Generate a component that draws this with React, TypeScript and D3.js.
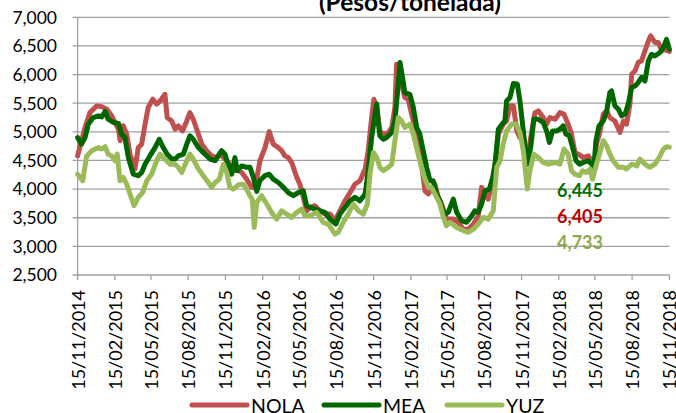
import React from "react";
import * as d3 from "d3";

const START = "2014-11-15";
const TITLE = "(Pesos/tonelada)";
const xTickLabels = [
  "15/11/2014", "15/02/2015", "15/05/2015", "15/08/2015", "15/11/2015",
  "15/02/2016", "15/05/2016", "15/08/2016", "15/11/2016", "15/02/2017",
  "15/05/2017", "15/08/2017", "15/11/2017", "15/02/2018", "15/05/2018",
  "15/08/2018", "15/11/2018",
];
const yTicks = [2500, 3000, 3500, 4000, 4500, 5000, 5500, 6000, 6500, 7000];
const seriesNames = ["NOLA", "MEA", "YUZ"];
const lastValues = ["6,445", "6,405", "4,733"]; // MEA, NOLA, YUZ

// [weeks since START, pesos/ton]
const NOLA: [number, number][] = [
  [0, 4580], [1.4, 4840], [2.6, 5075], [4.4, 5340], [6.7, 5450], [8.5, 5440], [10.3, 5395], [12, 5280],
  [13.2, 5165], [14.4, 5045], [15, 4845], [16.1, 5105], [17.3, 4960], [18.5, 4610], [20.2, 4350], [21.4, 4725],
  [22.6, 4785], [23.8, 5135], [24.9, 5425], [26.5, 5570], [27.9, 5485], [29.1, 5540], [30.8, 5655], [31.6, 5250],
  [33.2, 5190], [34.4, 5045], [35.5, 5105], [37, 5015], [38.5, 5190], [39.6, 5335], [40.8, 5220], [42, 5045],
  [43.8, 4785], [45.5, 4670], [47.3, 4580], [49, 4550], [50.2, 4610], [52, 4525], [53.2, 4465], [54.3, 4290],
  [56.1, 4350], [57.9, 4290], [59.6, 4175], [61.4, 4030], [62.6, 4020], [64.3, 4495], [66.1, 4725], [67.6, 5005],
  [69, 4785], [70.8, 4725], [72, 4670], [73.1, 4580], [74.3, 4550], [75.5, 4465], [77.3, 4205], [78.4, 4085],
  [79.6, 3855], [80.8, 3620], [82, 3680], [83.7, 3710], [85.5, 3620], [87.2, 3565], [89, 3565], [90.8, 3450],
  [92.5, 3620], [94.3, 3795], [96.1, 3940], [97.8, 4085], [99.6, 4145], [101.4, 4350], [102.5, 4670], [103.7, 5250],
  [104.5, 5570], [105.5, 5425], [106.6, 5015], [107.8, 4960], [109.6, 4990], [110.8, 5075], [111.9, 5425], [112.5, 6180],
  [113.4, 6095], [114.3, 5830], [115.4, 5600], [116.6, 5570], [117.8, 5310], [119, 5075], [120.1, 4845], [121.3, 4435],
  [122.5, 3970], [123.7, 3915], [124.8, 4000], [126, 4085], [127.2, 3855], [128.4, 3740], [130.1, 3480], [132.5, 3480],
  [134.3, 3420], [136, 3300], [137.8, 3300], [139.6, 3390], [141.3, 3535], [142.5, 4030], [143.7, 3915], [144.8, 3825],
  [146.4, 4145], [147.2, 4380], [148.4, 4960], [150.1, 5135], [151.3, 5190], [152.5, 5455], [153.7, 5455], [154.9, 5015],
  [156, 4900], [157.2, 4845], [158.6, 4435], [159.8, 4900], [161.3, 5335], [162.5, 5365], [164.2, 5250], [165.4, 5135],
  [166.6, 5250], [168.4, 5220], [170.1, 5335], [171.5, 5310], [173, 5135], [174.2, 4960], [175.4, 4640], [176.6, 4610],
  [178.4, 4550], [180.1, 4580], [181.3, 4495], [182.1, 4380], [183, 4785], [184.2, 4990], [185.4, 5310], [186.6, 5365],
  [187.7, 5250], [189.5, 5190], [191.3, 4990], [192.5, 5190], [193.6, 5135], [194.8, 5485], [195.4, 6005], [196.6, 6065],
  [197.7, 6210], [198.9, 6240], [200.1, 6415], [201.3, 6585], [202.1, 6675], [203.6, 6560], [204.8, 6560], [206, 6415],
  [207.1, 6440], [208.7, 6405],
];

const MEA: [number, number][] = [
  [0, 4900], [1.4, 4785], [2.6, 4900], [3.8, 5135], [5.5, 5250], [7.3, 5280], [8.5, 5260], [9.7, 5355],
  [10.8, 5220], [12.6, 5165], [14.4, 5145], [15.5, 4960], [16.7, 4900], [17.9, 4550], [19.65, 4260], [21.4, 4235],
  [22.6, 4290], [23.8, 4435], [25.5, 4580], [27.3, 4725], [28.8, 4870], [30.2, 4725], [31.6, 4610], [33.2, 4525],
  [34.4, 4525], [35.5, 4580], [37.3, 4610], [38.5, 4785], [39.6, 4930], [40.8, 4870], [42.6, 4725], [44.3, 4640],
  [46.7, 4525], [48.5, 4495], [49.6, 4580], [50.8, 4670], [52, 4610], [53.2, 4405], [54.3, 4260], [55.5, 4550],
  [56.3, 4320], [57.9, 4405], [59.6, 4380], [60.8, 4380], [62, 4205], [63.2, 3960], [64.3, 4150], [66.1, 4235],
  [67.6, 4260], [69, 4175], [70.8, 4115], [72.6, 4030], [74.3, 3940], [76.1, 3885], [77.8, 3940], [79.6, 3970],
  [80.8, 3710], [82, 3680], [83.7, 3650], [85.5, 3620], [87.2, 3595], [89, 3475], [91.1, 3390], [92.5, 3565],
  [94.3, 3680], [96.1, 3795], [97.8, 3855], [99.6, 3795], [101.4, 3915], [102.5, 4320], [103.7, 4900], [104.9, 5310],
  [105.5, 5485], [106, 5190], [106.6, 4930], [107.8, 4870], [109, 4900], [110.8, 4990], [111.9, 5190], [113.1, 5830],
  [113.7, 6210], [114.6, 5950], [115.4, 5685], [117.2, 5655], [118.4, 5425], [119.6, 5075], [120.7, 4960], [121.9, 4670],
  [123.1, 4380], [124.3, 4145], [125.4, 4145], [126.6, 3915], [127.8, 3795], [129, 3595], [129.6, 3565], [130.7, 3595],
  [132.5, 3825], [133.7, 3595], [135.4, 3450], [137.2, 3420], [139, 3535], [140.1, 3620], [141.3, 3595], [142.5, 3740],
  [143.7, 3970], [145.2, 4000], [146.4, 4205], [147.2, 4435], [148.4, 5045], [149.5, 5120], [150.7, 5190], [151.3, 5540],
  [152.5, 5600], [153.7, 5845], [155.1, 5830], [156, 5540], [157.2, 5015], [158.6, 4435], [159.8, 4725], [160.9, 5220],
  [162.5, 5220], [164.2, 5165], [165.4, 5015], [166.4, 4815], [167.5, 5015], [168.9, 5015], [170.1, 5045], [171.3, 5105],
  [172.2, 4960], [173.4, 4930], [174.6, 4725], [175.8, 4495], [177, 4435], [178.4, 4465], [180.1, 4495], [181.3, 4435],
  [182.1, 4380], [182.8, 4845], [183.9, 5105], [185.4, 5190], [186.6, 5365], [187.7, 5685], [188.3, 5715], [189.5, 5455],
  [190.7, 5395], [191.9, 5280], [193.1, 5310], [194.2, 5485], [195.4, 5775], [196.6, 5800], [197.7, 5860], [198.9, 5950],
  [200.1, 5890], [201.3, 6240], [202.4, 6355], [203.6, 6325], [205.4, 6385], [206.6, 6470], [207.7, 6615], [208.7, 6445],
];

const YUZ: [number, number][] = [
  [0, 4260], [1.8, 4145], [3.2, 4580], [5, 4670], [7.3, 4725], [8.5, 4700], [9.7, 4740], [10.8, 4610],
  [12, 4580], [13.2, 4495], [14, 4610], [14.95, 4145], [16.1, 4205], [17.3, 4085], [18.5, 3915], [19.9, 3710],
  [21.4, 3855], [22.9, 3940], [24.4, 4145], [26.1, 4260], [27.9, 4495], [29.1, 4610], [30.8, 4525], [32.6, 4435],
  [34.4, 4435], [35.5, 4380], [36.7, 4290], [38.5, 4495], [39.6, 4610], [40.8, 4525], [42.6, 4350], [44.3, 4235],
  [46.1, 4115], [47.3, 4030], [48.5, 4115], [50, 4175], [51.4, 4435], [52.6, 4290], [53.7, 4030], [54.9, 4000],
  [56.7, 4075], [58.4, 4085], [59.6, 4000], [60.8, 3880], [61.6, 3825], [62.3, 3330], [63.2, 3770], [64.9, 3885],
  [66.7, 3740], [68.4, 3595], [70.2, 3475], [72, 3620], [73.7, 3565], [75.5, 3505], [77.3, 3595], [79, 3650],
  [80.2, 3535], [82, 3535], [84.3, 3595], [85.5, 3505], [86.6, 3420], [88.4, 3390], [90.8, 3215], [91.9, 3245],
  [93.7, 3420], [95.5, 3565], [97.2, 3740], [99, 3620], [100.8, 3565], [102.2, 3740], [103.1, 4260], [104.3, 4640],
  [105.5, 4550], [106.6, 4380], [107.8, 4320], [109.6, 4380], [110.8, 4435], [111.9, 4845], [113.1, 5250], [114.3, 5190],
  [115.4, 5075], [117.2, 5135], [118.4, 4960], [120.1, 4610], [121.9, 4260], [123.7, 4030], [124.8, 4030], [126, 3915],
  [127.8, 3740], [129, 3505], [130.1, 3360], [131.3, 3420], [133.7, 3330], [136, 3275], [137.8, 3245], [139.6, 3300],
  [141.3, 3390], [143.1, 3505], [144.8, 3475], [146.6, 3620], [147.8, 4380], [149, 4495], [150.1, 4785], [151.3, 5015],
  [153.1, 5135], [154.6, 5135], [156, 4990], [157.2, 4670], [158.6, 4000], [159.5, 4320], [160.9, 4610], [162.5, 4550],
  [164.2, 4465], [166, 4435], [168.4, 4465], [170.1, 4435], [171.5, 4700], [173, 4610], [174.2, 4320], [175.4, 4260],
  [177, 4235], [178.1, 4320], [179.5, 4290], [180.7, 4350], [181.6, 4175], [183, 4435], [184.2, 4640], [185.4, 4845],
  [186.6, 4755], [187.7, 4610], [188.9, 4495], [190.7, 4380], [192.5, 4380], [193.6, 4350], [195.4, 4435], [197.2, 4405],
  [198.3, 4525], [200.1, 4435], [201.8, 4380], [203.6, 4435], [205.1, 4550], [206.6, 4700], [207.7, 4740], [208.7, 4733],
];

const COLORS = { NOLA: "#C0504D", MEA: "#006600", YUZ: "#9BBB59" };
const LABEL_COLORS = ["#007000", "#C00000", "#8CAA4C"];
const FONT = "Lato, 'Open Sans', sans-serif";

const W = 676;
const H = 413;
const M = { left: 77.6, right: 669.4, top: 17.3, bottom: 275 };

const parseDMY = d3.timeParse("%d/%m/%Y");
const startDate = d3.timeParse("%Y-%m-%d")(START) as Date;
const toDate = (w: number) => new Date(startDate.getTime() + w * 7 * 86400000);

export default function App() {
  const tickDates = xTickLabels.map((s) => parseDMY(s) as Date);
  const x = d3
    .scaleTime()
    .domain([tickDates[0], tickDates[tickDates.length - 1]])
    .range([M.left, M.right]);
  const y = d3.scaleLinear().domain([2500, 7000]).range([M.bottom, M.top]);

  const line = d3
    .line<[number, number]>()
    .x((d) => x(toDate(d[0])))
    .y((d) => y(d[1]));

  const series: { name: string; data: [number, number][]; color: string }[] = [
    { name: "NOLA", data: NOLA, color: COLORS.NOLA },
    { name: "MEA", data: MEA, color: COLORS.MEA },
    { name: "YUZ", data: YUZ, color: COLORS.YUZ },
  ];

  const legendPos = [
    { x1: 192, x2: 247, tx: 251 },
    { x1: 324, x2: 379, tx: 383 },
    { x1: 447, x2: 502, tx: 506 },
  ];
  const labelBaselines = [197, 223, 249];

  return (
    <div style={{ position: "fixed", left: 0, top: 0, width: W, height: H, background: "#fff" }}>
      <svg width={W} height={H} style={{ display: "block", fontFamily: FONT }}>
        <rect width={W} height={H} fill="#fff" />
        <text x={410} y={11} textAnchor="middle" fontSize={24.5} fontWeight="bold" fill="#000">
          {TITLE}
        </text>
        {yTicks.map((t) => (
          <g key={t}>
            <line x1={M.left - 5} x2={M.right} y1={y(t)} y2={y(t)} stroke="#A0A0A0" strokeWidth={1.3} />
            <text x={57} y={y(t)} dy="0.36em" textAnchor="end" fontSize={17.5} fill="#000">
              {d3.format(",")(t)}
            </text>
          </g>
        ))}
        <line x1={M.left} x2={M.left} y1={M.top} y2={M.bottom} stroke="#A0A0A0" strokeWidth={1.3} />
        {tickDates.map((d, i) => (
          <g key={i}>
            <line x1={x(d)} x2={x(d)} y1={M.bottom} y2={M.bottom + 5} stroke="#A0A0A0" strokeWidth={1.3} />
            <text
              transform={`translate(${x(d) + 7},${M.bottom + 15}) rotate(-90)`}
              textAnchor="end"
              fontSize={18}
              fill="#000"
            >
              {xTickLabels[i]}
            </text>
          </g>
        ))}
        {series.map((s) => (
          <path
            key={s.name}
            d={line(s.data) || ""}
            fill="none"
            stroke={s.color}
            strokeWidth={5}
            strokeLinejoin="round"
            strokeLinecap="round"
          />
        ))}
        {lastValues.map((v, i) => (
          <text key={i} x={557} y={labelBaselines[i]} fontSize={18} fontWeight="bold" fill={LABEL_COLORS[i]}>
            {v}
          </text>
        ))}
        {series.map((s, i) => (
          <g key={s.name}>
            <line
              x1={legendPos[i].x1}
              x2={legendPos[i].x2}
              y1={405}
              y2={405}
              stroke={s.color}
              strokeWidth={5}
              strokeLinecap="round"
            />
            <text x={legendPos[i].tx} y={413} fontSize={19.5} fill="#000">
              {seriesNames[i]}
            </text>
          </g>
        ))}
      </svg>
    </div>
  );
}
